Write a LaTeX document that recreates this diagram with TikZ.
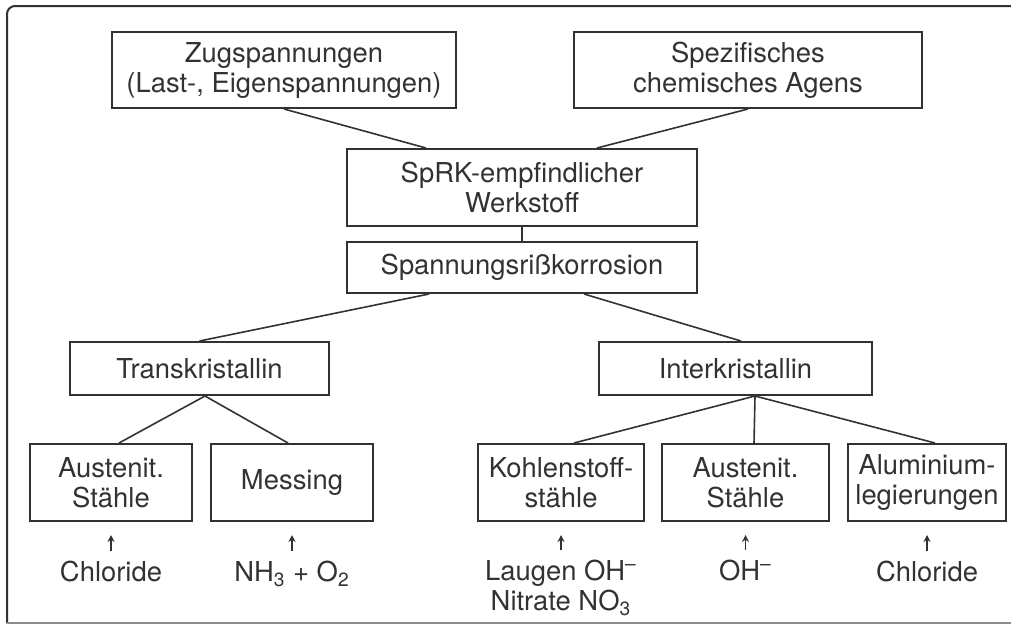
\documentclass[tikz,border=0pt]{standalone}
\usepackage{fontspec}
\setmainfont{TeX Gyre Heros}
\usepackage{xcolor}
\usepackage{tikz}
\definecolor{inkgray}{RGB}{50,50,50}
\definecolor{framegray}{RGB}{140,140,140}
\usetikzlibrary{arrows.meta, positioning, calc}

\begin{document}
\begin{tikzpicture}[x=0.5pt, y=-0.5pt,
    box/.style={rectangle, draw=inkgray, line width=1pt, text=inkgray,
                align=center, inner sep=0pt, font=\fontsize{13.7}{15}\selectfont},
    link/.style={draw=inkgray, line width=0.8pt},
    cause/.style={-{Stealth[length=3.5pt, width=3.5pt]}, draw=inkgray, line width=0.7pt,
                  shorten <=5pt, shorten >=6.5pt},
    agent/.style={anchor=north, inner sep=0pt, text=inkgray, align=center,
                  font=\fontsize{13.7}{15}\selectfont}
]
    \useasboundingbox (0,0) rectangle (1011,628);
    % frame, open on the right
    \draw[inkgray, line width=1pt, rounded corners=4pt] (1011,6) -- (7,6) -- (7,623);
    \draw[framegray, line width=0.8pt] (7,623) -- (1011,623);

    % top level
    \node[box, minimum width=172pt, minimum height=38pt] (zug)  at (284,70)  {Zugspannungen\\(Last-, Eigenspannungen)};
    \node[box, minimum width=174pt, minimum height=38pt] (spez) at (748,70)  {Spezifisches\\chemisches Agens};
    \node[box, minimum width=175pt, minimum height=38.5pt] (sprk) at (522,187.5) {SpRK-empfindlicher\\Werkstoff};
    \node[box, minimum width=175pt, minimum height=25.5pt] (sprk2) at (522,267.5) {Spannungsrißkorrosion};

    % crack types
    \node[box, minimum width=129.5pt, minimum height=26.5pt] (trans) at (199.5,368.5) {Transkristallin};
    \node[box, minimum width=136.5pt, minimum height=26.5pt] (inter) at (735.5,368.5) {Interkristallin};

    % materials
    \node[box, minimum width=81pt, minimum height=38.5pt] (aus1) at (111,482.5)   {Austenit.\\Stähle};
    \node[box, minimum width=81pt, minimum height=38.5pt] (mes)  at (292,482.5)   {Messing};
    \node[box, minimum width=83pt, minimum height=38.5pt] (kohl) at (561,482.5)   {Kohlenstoff-\\stähle};
    \node[box, minimum width=83.5pt, minimum height=38.5pt] (aus2) at (745.5,482.5) {Austenit.\\Stähle};
    \node[box, minimum width=79pt, minimum height=38.5pt] (alu)  at (927,482.5)   {Aluminium-\\legierungen};

    % media
    \node[agent] (chl1) at (111,561)   {Chloride};
    \node[agent] (nh)   at (292,561)   {NH\textsubscript{3} + O\textsubscript{2}};
    \node[agent] (lau)  at (561,560)   {Laugen OH\textsuperscript{–}\\Nitrate NO\textsubscript{3}};
    \node[agent] (oh)   at (745.5,560) {OH\textsuperscript{–}};
    \node[agent] (chl2) at (927,561)   {Chloride};

    % connectors
    \draw[link] (zug.south)  -- ([xshift=-48pt]sprk.north);
    \draw[link] (spez.south) -- ([xshift=37.5pt]sprk.north);
    \draw[link] (sprk) -- (sprk2);
    \draw[link] ([xshift=-46.5pt]sprk2.south) -- (trans.north);
    \draw[link] ([xshift=31pt]sprk2.south) -- ([xshift=2.75pt]inter.north);
    \draw[link] ([xshift=2.75pt]trans.south) -- ([xshift=4pt]aus1.north);
    \draw[link] ([xshift=2.75pt]trans.south) -- ([xshift=-2pt]mes.north);
    \draw[link] ([xshift=9.75pt]inter.south) -- ([xshift=6.5pt]kohl.north);
    \draw[link] ([xshift=9.75pt]inter.south) -- ([xshift=4.25pt]aus2.north);
    \draw[link] ([xshift=9.75pt]inter.south) -- ([xshift=4pt]alu.north);

    \draw[cause] (chl1) -- (aus1);
    \draw[cause] (nh)   -- (mes);
    \draw[cause] (lau)  -- (kohl);
    \draw[cause] (oh)   -- (aus2);
    \draw[cause] (chl2) -- (alu);
\end{tikzpicture}
\end{document}
